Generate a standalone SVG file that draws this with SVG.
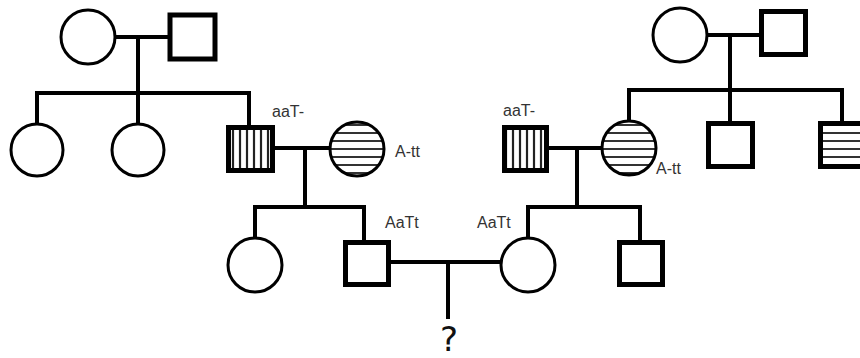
<svg xmlns="http://www.w3.org/2000/svg" width="860" height="358" viewBox="0 0 860 358">
<style>
.sq{fill:#fff;stroke:#000;stroke-width:5}
.ci{fill:#fff;stroke:#000;stroke-width:3}
.vh{fill:url(#vhatch)}
.hh{fill:url(#hhatch)}
.ln{stroke:#000;stroke-width:4;fill:none;stroke-linecap:square}
.lb{font-family:"Liberation Sans",Arial,sans-serif;font-size:16px;fill:#333}
.q{font-family:"DejaVu Sans","Liberation Sans",sans-serif;font-size:34px;fill:#111}
</style>
<defs>
<pattern id="vhatch" patternUnits="userSpaceOnUse" x="230" y="0" width="7" height="10">
<rect width="7" height="10" fill="#fff"/>
<line x1="3" y1="0" x2="3" y2="10" stroke="#222" stroke-width="2.2"/>
</pattern>
<pattern id="hhatch" patternUnits="userSpaceOnUse" x="0" y="1" width="10" height="8">
<rect width="10" height="8" fill="#fff"/>
<line x1="0" y1="4" x2="10" y2="4" stroke="#333" stroke-width="2"/>
</pattern>
</defs>
<g id="connectors">
<path class="ln" d="M115 37H168M138 37V93M37 93H249M37 93V123M138 93V123M249 93V125"/>
<path class="ln" d="M275 148H330M305 148V207M255 207H364M255 207V238M364 207V240"/>
<path class="ln" d="M391 262H501M448 262V317"/>
<path class="ln" d="M707 35H759M730 35V90M629 90H842M629 90V121M730 90V121M842 90V121"/>
<path class="ln" d="M549 148H602M577 148V207M528 207H640M528 207V238M640 207V240"/>
</g>
<g id="L-gm"><circle class="ci" cx="88" cy="37" r="27"/></g>
<g id="L-gf"><rect class="sq" x="170" y="15" width="45" height="44"/></g>
<g id="L-d1"><circle class="ci" cx="37" cy="150" r="26"/></g>
<g id="L-d2"><circle class="ci" cx="138" cy="150" r="26"/></g>
<g id="L-father"><rect class="sq vh" x="228.5" y="127.5" width="44" height="43"/><text class="lb" x="272" y="117">aaT-</text></g>
<g id="L-mother"><circle class="ci hh" cx="357" cy="149" r="27"/><text class="lb" x="395" y="157">A-tt</text></g>
<g id="L-sister"><circle class="ci" cx="255" cy="265" r="27"/></g>
<g id="L-son"><rect class="sq" x="345.5" y="242.5" width="43" height="42"/><text class="lb" x="385" y="228">AaTt</text></g>
<g id="child"><text class="q" x="449" y="351" text-anchor="middle">?</text></g>
<g id="R-gm"><circle class="ci" cx="680" cy="35" r="27"/></g>
<g id="R-gf"><rect class="sq" x="761.5" y="11.5" width="44" height="43"/></g>
<g id="R-father"><rect class="sq vh" x="504.5" y="127.5" width="42" height="43"/><text class="lb" x="503" y="116">aaT-</text></g>
<g id="R-mother"><circle class="ci hh" cx="629" cy="148" r="27"/><text class="lb" x="656" y="174">A-tt</text></g>
<g id="R-son1"><rect class="sq" x="708.5" y="123.5" width="44" height="43"/></g>
<g id="R-son2"><rect class="sq hh" x="820.5" y="123.5" width="44" height="43"/></g>
<g id="R-daughter"><circle class="ci" cx="528" cy="265" r="27"/><text class="lb" x="477" y="228">AaTt</text></g>
<g id="R-son3"><rect class="sq" x="619.5" y="242.5" width="43" height="42"/></g>
</svg>
